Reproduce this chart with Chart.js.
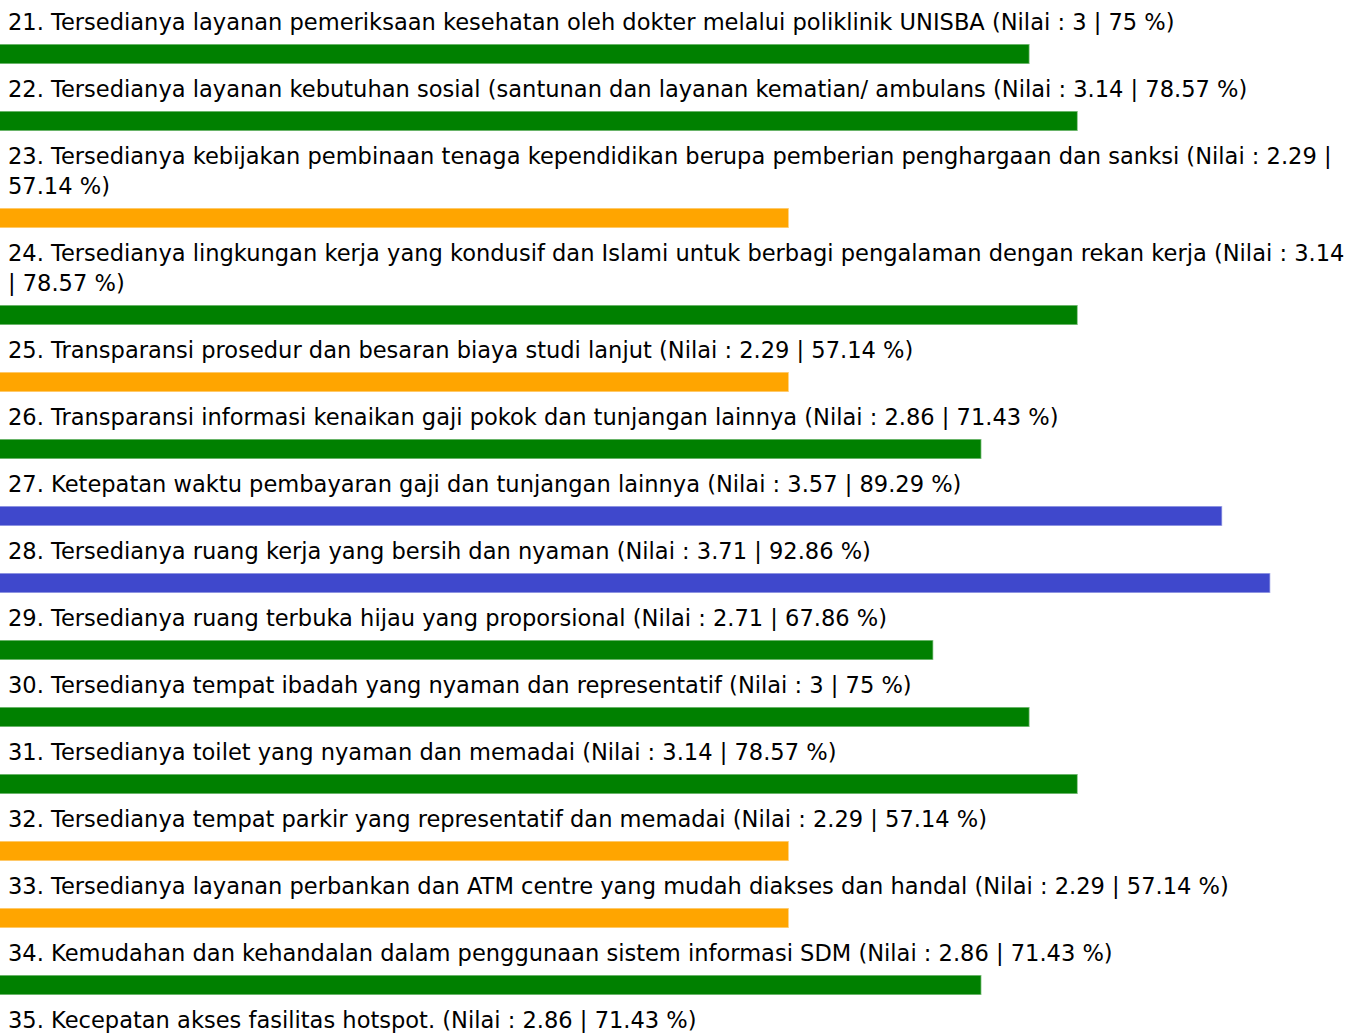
<!DOCTYPE html>
<html>
<head>
<meta charset="utf-8">
<script src="https://cdn.jsdelivr.net/npm/chart.js@4.4.1/dist/chart.umd.min.js"></script>
<style>
    html, body { margin: 0; padding: 0; background: #fff; overflow: hidden; }
    body { width: 1365px; height: 1033px; font-family: 'DejaVu Sans', sans-serif; }
    #list { padding-top: 7px; }
    .item-label { font-size: 22.55px; line-height: 30px; color: #000; padding: 0 8px; }
    .item-bar { position: relative; height: 20px; width: 1365px; margin: 7px 0 10px 0; }
</style>
</head>
<body>
<div id="list"></div>
<script>
// nomor butir kuesioner
const nomor = [21, 22, 23, 24, 25, 26, 27, 28, 29, 30, 31, 32, 33, 34, 35];

const pertanyaan = [
    'Tersedianya layanan pemeriksaan kesehatan oleh dokter melalui poliklinik UNISBA',
    'Tersedianya layanan kebutuhan sosial (santunan dan layanan kematian/ ambulans',
    'Tersedianya kebijakan pembinaan tenaga kependidikan berupa pemberian penghargaan dan sanksi',
    'Tersedianya lingkungan kerja yang kondusif dan Islami untuk berbagi pengalaman dengan rekan kerja',
    'Transparansi prosedur dan besaran biaya studi lanjut',
    'Transparansi informasi kenaikan gaji pokok dan tunjangan lainnya',
    'Ketepatan waktu pembayaran gaji dan tunjangan lainnya',
    'Tersedianya ruang kerja yang bersih dan nyaman',
    'Tersedianya ruang terbuka hijau yang proporsional',
    'Tersedianya tempat ibadah yang nyaman dan representatif',
    'Tersedianya toilet yang nyaman dan memadai',
    'Tersedianya tempat parkir yang representatif dan memadai',
    'Tersedianya layanan perbankan dan ATM centre yang mudah diakses dan handal',
    'Kemudahan dan kehandalan dalam penggunaan sistem informasi SDM',
    'Kecepatan akses fasilitas hotspot.'
];

const nilai = [3, 3.14, 2.29, 3.14, 2.29, 2.86, 3.57, 3.71, 2.71, 3, 3.14, 2.29, 2.29, 2.86, 2.86];
const persen = [75, 78.57, 57.14, 78.57, 57.14, 71.43, 89.29, 92.86, 67.86, 75, 78.57, 57.14, 57.14, 71.43, 71.43];

// batas sumbu x (persen)
const AXIS_MIN = -1.37;
const AXIS_MAX = 99.89;

function warnaBar(p) {
    if (p >= 85) return ['rgb(63, 72, 204)', 'rgba(63, 72, 204, 0.45)'];
    if (p >= 60) return ['rgb(0, 128, 0)', 'rgba(0, 128, 0, 0.45)'];
    return ['rgb(255, 165, 0)', 'rgba(255, 165, 0, 0.45)'];
}

const list = document.getElementById('list');

nomor.forEach(function (no, i) {
    const label = document.createElement('div');
    label.className = 'item-label';
    label.textContent = no + '. ' + pertanyaan[i] + ' (Nilai : ' + nilai[i] + ' | ' + persen[i] + ' %)';
    list.appendChild(label);

    const wrap = document.createElement('div');
    wrap.className = 'item-bar';
    const canvas = document.createElement('canvas');
    wrap.appendChild(canvas);
    list.appendChild(wrap);

    const warna = warnaBar(persen[i]);

    new Chart(canvas.getContext('2d'), {
        type: 'bar',
        data: {
            labels: [String(no)],
            datasets: [{
                data: [persen[i]],
                base: AXIS_MIN,
                backgroundColor: warna[0],
                borderColor: warna[1],
                borderWidth: 1,
                barPercentage: 1,
                categoryPercentage: 1
            }]
        },
        options: {
            indexAxis: 'y',
            responsive: true,
            maintainAspectRatio: false,
            animation: false,
            layout: { padding: 0 },
            plugins: {
                legend: { display: false },
                tooltip: { enabled: false }
            },
            scales: {
                x: { display: false, min: AXIS_MIN, max: AXIS_MAX },
                y: { display: false }
            }
        }
    });
});
</script>
</body>
</html>
